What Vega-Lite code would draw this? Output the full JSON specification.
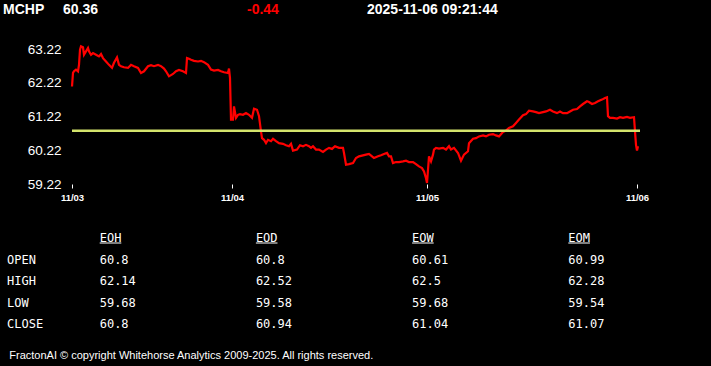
{
  "$schema": "https://vega.github.io/schema/vega-lite/v6.json",
  "width": 711,
  "height": 366,
  "autosize": {"type": "none"},
  "padding": 0,
  "background": "black",
  "config": {"view": {"stroke": null}},
  "layer": [
    {
      "layer": [
        {
          "data": {"values": [
            {"bar":0,"price":62.11},{"bar":1,"price":62.51},{"bar":2,"price":62.56},{"bar":4,"price":62.61},{"bar":6,"price":62.56},{"bar":7,"price":62.75},{"bar":8,"price":63.20},{"bar":9,"price":63.30},{"bar":11,"price":63.27},{"bar":12,"price":63.05},{"bar":14,"price":63.15},{"bar":16,"price":63.25},{"bar":17,"price":63.15},{"bar":19,"price":63.05},{"bar":21,"price":63.10},{"bar":24,"price":63.05},{"bar":27,"price":63.00},{"bar":29,"price":63.07},{"bar":31,"price":62.95},{"bar":34,"price":62.85},{"bar":37,"price":62.75},{"bar":40,"price":62.66},{"bar":42,"price":62.81},{"bar":45,"price":62.97},{"bar":47,"price":62.75},{"bar":49,"price":62.71},{"bar":52,"price":62.68},{"bar":56,"price":62.66},{"bar":59,"price":62.75},{"bar":62,"price":62.71},{"bar":66,"price":62.66},{"bar":69,"price":62.51},{"bar":72,"price":62.56},{"bar":76,"price":62.71},{"bar":79,"price":62.74},{"bar":82,"price":62.71},{"bar":86,"price":62.75},{"bar":89,"price":62.71},{"bar":92,"price":62.64},{"bar":94,"price":62.56},{"bar":97,"price":62.41},{"bar":101,"price":62.48},{"bar":104,"price":62.56},{"bar":107,"price":62.60},{"bar":111,"price":62.56},{"bar":114,"price":62.51},{"bar":115,"price":62.95},{"bar":117,"price":62.93},{"bar":119,"price":62.90},{"bar":122,"price":62.87},{"bar":126,"price":62.85},{"bar":129,"price":62.87},{"bar":132,"price":62.83},{"bar":136,"price":62.75},{"bar":139,"price":62.61},{"bar":142,"price":62.58},{"bar":146,"price":62.60},{"bar":149,"price":62.56},{"bar":152,"price":62.53},{"bar":156,"price":62.51},{"bar":157,"price":62.64},{"bar":158,"price":62.36},{"bar":159,"price":61.13},{"bar":161,"price":61.13},{"bar":162,"price":61.52},{"bar":164,"price":61.18},{"bar":166,"price":61.27},{"bar":168,"price":61.29},{"bar":171,"price":61.27},{"bar":174,"price":61.32},{"bar":177,"price":61.27},{"bar":180,"price":61.18},{"bar":182,"price":61.45},{"bar":185,"price":61.42},{"bar":187,"price":61.23},{"bar":189,"price":60.78},{"bar":190,"price":60.58},{"bar":192,"price":60.53},{"bar":194,"price":60.43},{"bar":196,"price":60.53},{"bar":199,"price":60.49},{"bar":201,"price":60.56},{"bar":204,"price":60.49},{"bar":207,"price":60.43},{"bar":211,"price":60.41},{"bar":214,"price":60.37},{"bar":217,"price":60.34},{"bar":219,"price":60.41},{"bar":221,"price":60.21},{"bar":225,"price":60.24},{"bar":228,"price":60.37},{"bar":231,"price":60.34},{"bar":234,"price":60.38},{"bar":237,"price":60.34},{"bar":239,"price":60.29},{"bar":241,"price":60.34},{"bar":244,"price":60.24},{"bar":247,"price":60.24},{"bar":251,"price":60.17},{"bar":254,"price":60.24},{"bar":257,"price":60.29},{"bar":260,"price":60.26},{"bar":263,"price":60.34},{"bar":267,"price":60.29},{"bar":271,"price":60.29},{"bar":272,"price":60.14},{"bar":274,"price":59.79},{"bar":277,"price":59.81},{"bar":281,"price":59.84},{"bar":284,"price":59.99},{"bar":287,"price":60.04},{"bar":291,"price":60.07},{"bar":294,"price":60.09},{"bar":297,"price":60.11},{"bar":300,"price":60.04},{"bar":302,"price":59.99},{"bar":306,"price":60.04},{"bar":309,"price":60.07},{"bar":312,"price":60.11},{"bar":315,"price":60.14},{"bar":317,"price":60.04},{"bar":319,"price":60.04},{"bar":321,"price":59.84},{"bar":324,"price":59.87},{"bar":327,"price":59.87},{"bar":331,"price":59.89},{"bar":334,"price":59.91},{"bar":337,"price":59.87},{"bar":341,"price":59.87},{"bar":344,"price":59.81},{"bar":347,"price":59.74},{"bar":350,"price":59.69},{"bar":352,"price":59.59},{"bar":354,"price":59.39},{"bar":355,"price":59.25},{"bar":357,"price":60.04},{"bar":359,"price":59.89},{"bar":361,"price":60.09},{"bar":362,"price":60.24},{"bar":364,"price":60.29},{"bar":367,"price":60.27},{"bar":371,"price":60.29},{"bar":374,"price":60.24},{"bar":377,"price":60.34},{"bar":379,"price":60.24},{"bar":382,"price":60.29},{"bar":386,"price":60.14},{"bar":389,"price":59.91},{"bar":392,"price":60.09},{"bar":396,"price":60.19},{"bar":397,"price":60.43},{"bar":401,"price":60.56},{"bar":404,"price":60.58},{"bar":407,"price":60.63},{"bar":411,"price":60.66},{"bar":414,"price":60.63},{"bar":417,"price":60.68},{"bar":421,"price":60.70},{"bar":424,"price":60.66},{"bar":427,"price":60.63},{"bar":431,"price":60.76},{"bar":434,"price":60.80},{"bar":437,"price":60.88},{"bar":441,"price":60.93},{"bar":444,"price":61.03},{"bar":447,"price":61.13},{"bar":451,"price":61.26},{"bar":454,"price":61.29},{"bar":457,"price":61.39},{"bar":461,"price":61.37},{"bar":464,"price":61.35},{"bar":467,"price":61.32},{"bar":471,"price":61.35},{"bar":474,"price":61.37},{"bar":478,"price":61.42},{"bar":481,"price":61.37},{"bar":485,"price":61.32},{"bar":488,"price":61.37},{"bar":491,"price":61.32},{"bar":495,"price":61.32},{"bar":498,"price":61.37},{"bar":501,"price":61.42},{"bar":505,"price":61.44},{"bar":508,"price":61.52},{"bar":511,"price":61.59},{"bar":515,"price":61.67},{"bar":517,"price":61.65},{"bar":520,"price":61.59},{"bar":523,"price":61.62},{"bar":526,"price":61.67},{"bar":530,"price":61.72},{"bar":533,"price":61.77},{"bar":535,"price":61.79},{"bar":536,"price":61.23},{"bar":538,"price":61.18},{"bar":541,"price":61.18},{"bar":545,"price":61.16},{"bar":548,"price":61.20},{"bar":551,"price":61.18},{"bar":555,"price":61.21},{"bar":558,"price":61.18},{"bar":562,"price":61.20},{"bar":563,"price":60.78},{"bar":564,"price":60.38},{"bar":565,"price":60.21},{"bar":566,"price":60.34}
          ]},
          "mark": {"type": "line", "color": "#ff0000", "strokeWidth": 2.2},
          "encoding": {
            "x": {
              "field": "bar", "type": "quantitative",
              "scale": {"domain": [0, 566], "range": [72, 638], "nice": false, "zero": false},
              "axis": {
                "offset": -182, "values": [0, 160, 355, 565],
                "labelExpr": "datum.value == 0 ? '11/03' : datum.value == 160 ? '11/04' : datum.value == 355 ? '11/05' : '11/06'",
                "domain": false, "grid": false, "ticks": true, "tickColor": "white", "tickSize": 4, "tickWidth": 1,
                "labelColor": "white", "labelFont": "Liberation Sans", "labelFontSize": 9.5, "labelFontWeight": "bold",
                "labelPadding": 4, "labelFlush": false, "labelOverlap": false, "title": null
              }
            },
            "y": {
              "field": "price", "type": "quantitative",
              "scale": {"domain": [59.22, 63.22], "range": [184, 49], "nice": false, "zero": false},
              "axis": {
                "offset": -66, "values": [59.22, 60.22, 61.22, 62.22, 63.22], "format": ".2f",
                "domain": false, "grid": false, "ticks": false, "tickSize": 0,
                "labelColor": "white", "labelFont": "Liberation Sans", "labelFontSize": 13.5,
                "labelPadding": 5, "labelOverlap": false, "title": null
              }
            }
          }
        },
        {
          "data": {"values": [{"level": 60.8, "start": 0, "end": 568}]},
          "mark": {"type": "rule", "color": "#d4e46c", "strokeWidth": 2.5},
          "encoding": {
            "x": {"field": "start", "type": "quantitative"},
            "x2": {"field": "end"},
            "y": {"field": "level", "type": "quantitative"}
          }
        }
      ]
    },
    {
      "data": {"values": [
        {"item": "MCHP", "kind": "symbol", "col": 0, "row": 0},
        {"item": "60.36", "kind": "last", "col": 1, "row": 0},
        {"item": "-0.44", "kind": "change", "col": 2, "row": 0},
        {"item": "2025-11-06 09:21:44", "kind": "time", "col": 3, "row": 0}
      ]},
      "mark": {"type": "text", "align": "left", "baseline": "middle", "font": "Liberation Sans", "fontSize": 14, "fontWeight": "bold"},
      "encoding": {
        "x": {"field": "col", "type": "quantitative", "scale": {"domain": [0, 1, 2, 3], "range": [3, 63, 247, 367], "nice": false, "zero": false}, "axis": null},
        "y": {"field": "row", "type": "quantitative", "scale": {"domain": [0, 1, 5, 6], "range": [10, 238, 324, 356.3], "nice": false, "zero": false}, "axis": null},
        "text": {"field": "item"},
        "color": {"field": "kind", "type": "nominal", "scale": {"domain": ["symbol", "last", "change", "time"], "range": ["#ffffff", "#ffffff", "#ff0000", "#ffffff"]}, "legend": null}
      }
    },
    {
      "data": {"values": [
        {"row": 1, "col": 1, "text": "EOH"}, {"row": 1, "col": 2, "text": "EOD"}, {"row": 1, "col": 3, "text": "EOW"}, {"row": 1, "col": 4, "text": "EOM"},
        {"row": 2, "col": 0, "text": "OPEN"}, {"row": 2, "col": 1, "text": "60.8"}, {"row": 2, "col": 2, "text": "60.8"}, {"row": 2, "col": 3, "text": "60.61"}, {"row": 2, "col": 4, "text": "60.99"},
        {"row": 3, "col": 0, "text": "HIGH"}, {"row": 3, "col": 1, "text": "62.14"}, {"row": 3, "col": 2, "text": "62.52"}, {"row": 3, "col": 3, "text": "62.5"}, {"row": 3, "col": 4, "text": "62.28"},
        {"row": 4, "col": 0, "text": "LOW"}, {"row": 4, "col": 1, "text": "59.68"}, {"row": 4, "col": 2, "text": "59.58"}, {"row": 4, "col": 3, "text": "59.68"}, {"row": 4, "col": 4, "text": "59.54"},
        {"row": 5, "col": 0, "text": "CLOSE"}, {"row": 5, "col": 1, "text": "60.8"}, {"row": 5, "col": 2, "text": "60.94"}, {"row": 5, "col": 3, "text": "61.04"}, {"row": 5, "col": 4, "text": "61.07"}
      ]},
      "mark": {"type": "text", "align": "left", "baseline": "middle", "font": "DejaVu Sans Mono", "fontSize": 12, "color": "#ffffff"},
      "encoding": {
        "x": {"field": "col", "type": "quantitative", "scale": {"domain": [0, 1, 4], "range": [7, 99.7, 568.3], "nice": false, "zero": false}, "axis": null},
        "y": {"field": "row", "type": "quantitative", "scale": {"domain": [0, 1, 5, 6], "range": [10, 238, 324, 356.3], "nice": false, "zero": false}, "axis": null},
        "text": {"field": "text"}
      }
    },
    {
      "data": {"values": [{"row": 1, "col": 1}, {"row": 1, "col": 2}, {"row": 1, "col": 3}, {"row": 1, "col": 4}]},
      "mark": {"type": "rule", "color": "#ffffff", "strokeWidth": 1, "x2Offset": 21.6, "yOffset": 5},
      "encoding": {
        "x": {"field": "col", "type": "quantitative", "scale": {"domain": [0, 1, 4], "range": [7, 99.7, 568.3], "nice": false, "zero": false}, "axis": null},
        "x2": {"field": "col"},
        "y": {"field": "row", "type": "quantitative", "scale": {"domain": [0, 1, 5, 6], "range": [10, 238, 324, 356.3], "nice": false, "zero": false}, "axis": null}
      }
    },
    {
      "data": {"values": [{"row": 6, "col": 0, "text": "FractonAI © copyright Whitehorse Analytics 2009-2025. All rights reserved."}]},
      "mark": {"type": "text", "align": "left", "baseline": "middle", "font": "Liberation Sans", "fontSize": 11, "color": "#ffffff", "dx": 2.3},
      "encoding": {
        "x": {"field": "col", "type": "quantitative", "scale": {"domain": [0, 1, 4], "range": [7, 99.7, 568.3], "nice": false, "zero": false}, "axis": null},
        "y": {"field": "row", "type": "quantitative", "scale": {"domain": [0, 1, 5, 6], "range": [10, 238, 324, 356.3], "nice": false, "zero": false}, "axis": null},
        "text": {"field": "text"}
      }
    }
  ],
  "resolve": {"scale": {"x": "independent", "y": "independent", "color": "independent"}}
}
